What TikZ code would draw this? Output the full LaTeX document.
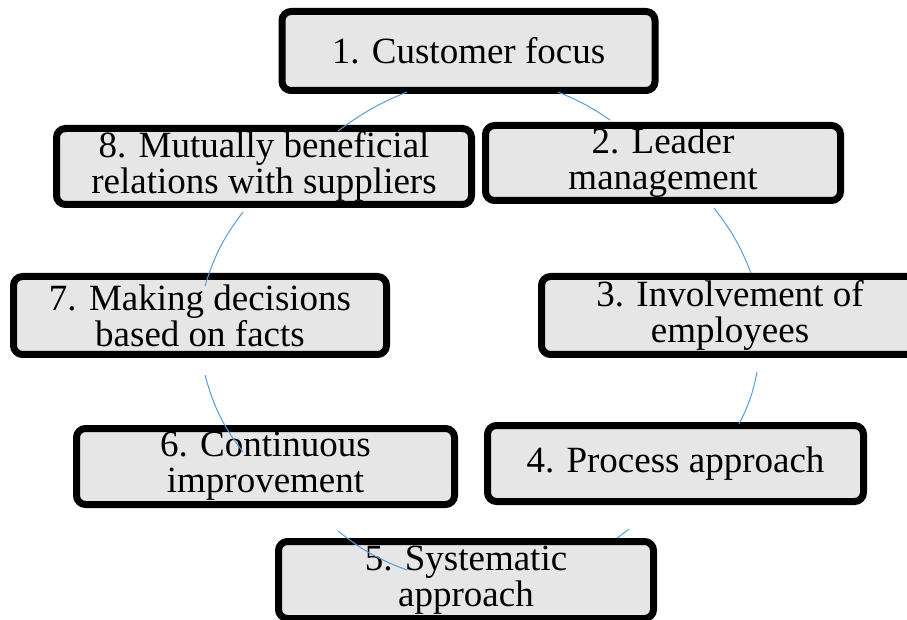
\documentclass[tikz,border=0pt]{standalone}
\usepackage{fontspec}
\setmainfont{Liberation Serif}
\definecolor{boxfill}{RGB}{230,230,230}
\definecolor{arcblue}{RGB}{91,155,213}
\begin{document}
\begin{tikzpicture}[x=1pt,y=1pt,
  pbox/.style={draw=black, line width=7pt, fill=boxfill, rounded corners=9pt,
    inner sep=0pt, align=center, font=\fontsize{37}{36}\selectfont},
  cyc/.style={draw=arcblue, line width=1pt}]
\useasboundingbox (0,0) rectangle (907,619);
\clip (0,0) rectangle (907,619);
\node[pbox, minimum width=373pt, minimum height=79pt] (b1) at (468.5,568) {1. Customer focus};
\node[pbox, minimum width=355pt, minimum height=75pt] (b2) at (663,456) {2. Leader\\management};
\node[pbox, minimum width=377pt, minimum height=78pt] (b3) at (730,303.5) {3. Involvement of\\employees};
\node[pbox, minimum width=376pt, minimum height=76pt] (b4) at (675.5,155.5) {4. Process approach};
\node[pbox, minimum width=375pt, minimum height=77pt] (b5) at (466,39) {5. Systematic\\approach};
\node[pbox, minimum width=378pt, minimum height=76pt] (b6) at (265.5,152.5) {6. Continuous\\improvement};
\node[pbox, minimum width=373pt, minimum height=78pt] (b7) at (200,303.5) {7. Making decisions\\based on facts};
\node[pbox, minimum width=415pt, minimum height=76pt] (b8) at (264,452.5) {8. Mutually beneficial\\relations with suppliers};
% arc end points
\coordinate (a1s) at (338,488); \coordinate (a1e) at (407,527);
\coordinate (a2s) at (558,527); \coordinate (a2e) at (610,499);
\coordinate (a3s) at (714,411); \coordinate (a3e) at (751,346);
\coordinate (a4s) at (757,247); \coordinate (a4e) at (739,195);
\coordinate (a5s) at (629,90);  \coordinate (a5e) at (617,81);
\coordinate (a6s) at (407,49);  \coordinate (a6e) at (338,88);
\coordinate (a7s) at (243,167); \coordinate (a7e) at (205,244);
\coordinate (a8s) at (205,333); \coordinate (a8e) at (243,407);
\draw[cyc] (a1s) to[bend left=7] (a1e);
\draw[cyc] (a2s) to[bend left=6] (a2e);
\draw[cyc] (a3s) to[bend left=8] (a3e);
\draw[cyc] (a4s) to[bend left=8] (a4e);
\draw[cyc] (a5s) to[bend left=2] (a5e);
\draw[cyc] (a6s) to[bend left=9] (a6e);
\draw[cyc] (a7s) to[bend left=11] (a7e);
\draw[cyc] (a8s) to[bend left=10] (a8e);
\end{tikzpicture}
\end{document}
